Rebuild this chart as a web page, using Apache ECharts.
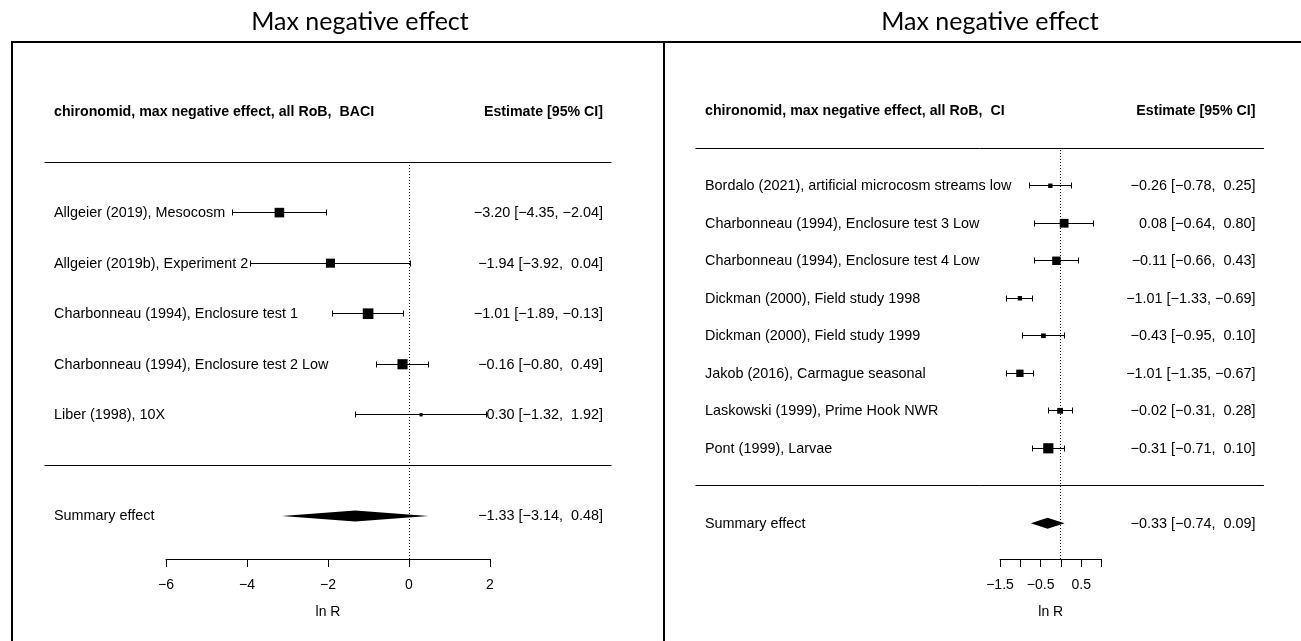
<!DOCTYPE html>
<html><head><meta charset="utf-8">
<script src="https://cdn.jsdelivr.net/npm/echarts@6/dist/echarts.min.js"></script>
<style>html,body{margin:0;padding:0;background:#fff}#chart{width:1301px;height:641px}</style>
</head><body><div id="chart"></div>
<script>
// ---------- data ----------
const panelTitle = 'Max negative effect';
const estimateHeader = 'Estimate [95% CI]';
const summaryLabel = 'Summary effect';
const axisName = 'ln R';

const leftHeader = 'chironomid, max negative effect, all RoB,  BACI';
const leftStudies = ['Allgeier (2019), Mesocosm', 'Allgeier (2019b), Experiment 2', 'Charbonneau (1994), Enclosure test 1', 'Charbonneau (1994), Enclosure test 2 Low', 'Liber (1998), 10X'];
const leftEstimate = [-3.20, -1.94, -1.01, -0.16, 0.30];
const leftLower = [-4.35, -3.92, -1.89, -0.80, -1.32];
const leftUpper = [-2.04, 0.04, -0.13, 0.49, 1.92];
const leftWeight = [23.0, 20.5, 28.4, 25.6, 2.6];
const leftSummary = [-1.33, -3.14, 0.48];
const leftTicks = ['\u22126', '\u22124', '\u22122', '0', '2'];

const rightHeader = 'chironomid, max negative effect, all RoB,  CI';
const rightStudies = ['Bordalo (2021), artificial microcosm streams low', 'Charbonneau (1994), Enclosure test 3 Low', 'Charbonneau (1994), Enclosure test 4 Low', 'Dickman (2000), Field study 1998', 'Dickman (2000), Field study 1999', 'Jakob (2016), Carmague seasonal', 'Laskowski (1999), Prime Hook NWR', 'Pont (1999), Larvae'];
const rightEstimate = [-0.26, 0.08, -0.11, -1.01, -0.43, -1.01, -0.02, -0.31];
const rightLower = [-0.78, -0.64, -0.66, -1.33, -0.95, -1.35, -0.31, -0.71];
const rightUpper = [0.25, 0.80, 0.43, -0.69, 0.10, -0.67, 0.28, 0.10];
const rightWeight = [4.8, 19.2, 17.8, 4.8, 5.5, 13.5, 8.4, 26.0];
const rightSummary = [-0.33, -0.74, 0.09];
const rightTicks = ['\u22121.5', '', '\u22120.5', '', '0.5', ''];

// ---------- layout ----------
const FONT = '"Liberation Sans", Arial, sans-serif';
const TXT = '14.4px ' + FONT;
const TXTB = 'bold 14.2px ' + FONT;
const SIZE_K = 2.0;
const panels = [
  { header: leftHeader, studies: leftStudies, est: leftEstimate, lo: leftLower, hi: leftUpper, w: leftWeight,
    summary: leftSummary, ticks: leftTicks, gridLeft: 166, gridWidth: 324, xMin: -6, xMax: 2, xStep: 2,
    yMin: -1.853, yMax: 7.228, xlim: [-9, 5], titleX: 360 },
  { header: rightHeader, studies: rightStudies, est: rightEstimate, lo: rightLower, hi: rightUpper, w: rightWeight,
    summary: rightSummary, ticks: rightTicks, gridLeft: 1000, gridWidth: 101.5, xMin: -1.5, xMax: 1, xStep: 0.5,
    yMin: -1.951, yMax: 10.286, xlim: [-9, 5], titleX: 990 }
];

function fmt(v) {
  const s = (v < 0 ? '\u2212' : '') + Math.abs(v).toFixed(2);
  return s.padStart(5, ' ');
}
function ciText(e, l, h) { return fmt(e) + ' [' + fmt(l) + ', ' + fmt(h) + ']'; }
function crisp(v) { return Math.round(v - 0.5) + 0.5; }

const grid = [], xAxis = [], yAxis = [], series = [];
panels.forEach((p, gi) => {
  const k = p.studies.length;
  grid.push({ left: p.gridLeft, width: p.gridWidth, top: 100, height: 459, containLabel: false, outerBoundsMode: 'none' });
  xAxis.push({
    type: 'value', gridIndex: gi, min: p.xMin, max: p.xMax, interval: p.xStep,
    axisLine: { show: true, onZero: false, lineStyle: { color: '#000', width: 1 } },
    axisTick: { show: true, length: 8, inside: false, lineStyle: { color: '#000', width: 1 } },
    axisLabel: { show: true, interval: 0, margin: 19, color: '#000', fontFamily: FONT, fontSize: 14,
      formatter: (v, i) => p.ticks[i] !== undefined ? p.ticks[i] : '' },
    splitLine: { show: false },
    name: axisName, nameLocation: 'middle', nameGap: 46,
    nameTextStyle: { color: '#000', fontFamily: FONT, fontSize: 14 }
  });
  yAxis.push({ type: 'value', gridIndex: gi, min: p.yMin, max: p.yMax, show: false,
    axisLine: { show: false }, splitLine: { show: false } });

  // reference line at 0 (dotted)
  series.push({
    type: 'custom', xAxisIndex: gi, yAxisIndex: gi, clip: false, silent: true, z: 1,
    data: [[0, p.yMin, k + 1]],
    renderItem: (params, api) => {
      const a = api.coord([api.value(0), api.value(1)]);
      const b = api.coord([api.value(0), api.value(2)]);
      const x = crisp(a[0]);
      return { type: 'line', shape: { x1: x, y1: a[1], x2: x, y2: b[1] },
        style: { stroke: '#000', lineWidth: 1, lineDash: [1, 2] } };
    }
  });

  // separator lines (rows 0 and k+1)
  series.push({
    type: 'custom', xAxisIndex: gi, yAxisIndex: gi, clip: false, silent: true, z: 2,
    data: [[p.xlim[0], p.xlim[1], 0], [p.xlim[0], p.xlim[1], k + 1]],
    renderItem: (params, api) => {
      const a = api.coord([api.value(0), api.value(2)]);
      const b = api.coord([api.value(1), api.value(2)]);
      const y = crisp(a[1]);
      return { type: 'line', shape: { x1: a[0], y1: y, x2: b[0], y2: y }, style: { stroke: '#000', lineWidth: 1 } };
    }
  });

  // studies: CI lines + squares
  series.push({
    type: 'custom', xAxisIndex: gi, yAxisIndex: gi, clip: false, silent: true, z: 3,
    data: p.studies.map((s, i) => [p.est[i], k - i, p.lo[i], p.hi[i], p.w[i]]),
    renderItem: (params, api) => {
      const row = api.value(1);
      const pe = api.coord([api.value(0), row]);
      const pl = api.coord([api.value(2), row]);
      const ph = api.coord([api.value(3), row]);
      const y = crisp(pe[1]);
      const xl = crisp(pl[0]), xh = crisp(ph[0]);
      const s = SIZE_K * Math.sqrt(api.value(4));
      const st = { stroke: '#000', lineWidth: 1 };
      return { type: 'group', children: [
        { type: 'line', shape: { x1: xl, y1: y, x2: xh, y2: y }, style: st },
        { type: 'line', shape: { x1: xl, y1: y - 3, x2: xl, y2: y + 3 }, style: st },
        { type: 'line', shape: { x1: xh, y1: y - 3, x2: xh, y2: y + 3 }, style: st },
        { type: 'rect', shape: { x: pe[0] - s / 2, y: pe[1] - s / 2, width: s, height: s }, style: { fill: '#000' } }
      ] };
    }
  });

  // summary diamond
  series.push({
    type: 'custom', xAxisIndex: gi, yAxisIndex: gi, clip: false, silent: true, z: 3,
    data: [[p.summary[0], -1, p.summary[1], p.summary[2]]],
    renderItem: (params, api) => {
      const pe = api.coord([api.value(0), api.value(1)]);
      const pl = api.coord([api.value(2), api.value(1)]);
      const ph = api.coord([api.value(3), api.value(1)]);
      const h = 5.5;
      return { type: 'polygon', shape: { points: [[pl[0], pe[1]], [pe[0], pe[1] - h], [ph[0], pe[1]], [pe[0], pe[1] + h]] },
        style: { fill: '#000' } };
    }
  });

  // texts
  const texts = [];
  texts.push({ side: 0, row: k + 2, text: p.header, bold: true });
  texts.push({ side: 1, row: k + 2, text: estimateHeader, bold: true });
  p.studies.forEach((s, i) => {
    texts.push({ side: 0, row: k - i, text: s });
    texts.push({ side: 1, row: k - i, text: ciText(p.est[i], p.lo[i], p.hi[i]) });
  });
  texts.push({ side: 0, row: -1, text: summaryLabel });
  texts.push({ side: 1, row: -1, text: ciText(p.summary[0], p.summary[1], p.summary[2]) });
  series.push({
    type: 'custom', xAxisIndex: gi, yAxisIndex: gi, clip: false, silent: true, z: 4,
    data: texts.map(t => [p.xlim[t.side], t.row]),
    renderItem: (params, api) => {
      const t = texts[params.dataIndex];
      const pt = api.coord([api.value(0), api.value(1)]);
      const x = t.side === 0 ? pt[0] + 9.5 : pt[0] - 8.5;
      return { type: 'text', x: x, y: pt[1] + 0.5,
        style: { text: t.text, fill: '#000', font: t.bold ? TXTB : TXT,
          align: t.side === 0 ? 'left' : 'right', verticalAlign: 'middle',
          textAlign: t.side === 0 ? 'left' : 'right', textVerticalAlign: 'middle' } };
    }
  });
});

const graphic = [
  { type: 'line', shape: { x1: 11, y1: 42, x2: 1301, y2: 42 }, style: { stroke: '#000', lineWidth: 2 }, silent: true },
  { type: 'line', shape: { x1: 12, y1: 41, x2: 12, y2: 641 }, style: { stroke: '#000', lineWidth: 2 }, silent: true },
  { type: 'line', shape: { x1: 664, y1: 41, x2: 664, y2: 641 }, style: { stroke: '#000', lineWidth: 2 }, silent: true }
];
panels.forEach(p => {
  graphic.push({ type: 'text', x: p.titleX, y: 22, silent: true,
    style: { text: panelTitle, fill: '#000', font: '25px Lato, "Open Sans", sans-serif', align: 'center', verticalAlign: 'middle',
      textAlign: 'center', textVerticalAlign: 'middle' } });
});

const chart = echarts.init(document.getElementById('chart'), null, { renderer: 'canvas' });
chart.setOption({
  animation: false,
  backgroundColor: '#fff',
  grid: grid, xAxis: xAxis, yAxis: yAxis, series: series, graphic: graphic
});
</script></body></html>
